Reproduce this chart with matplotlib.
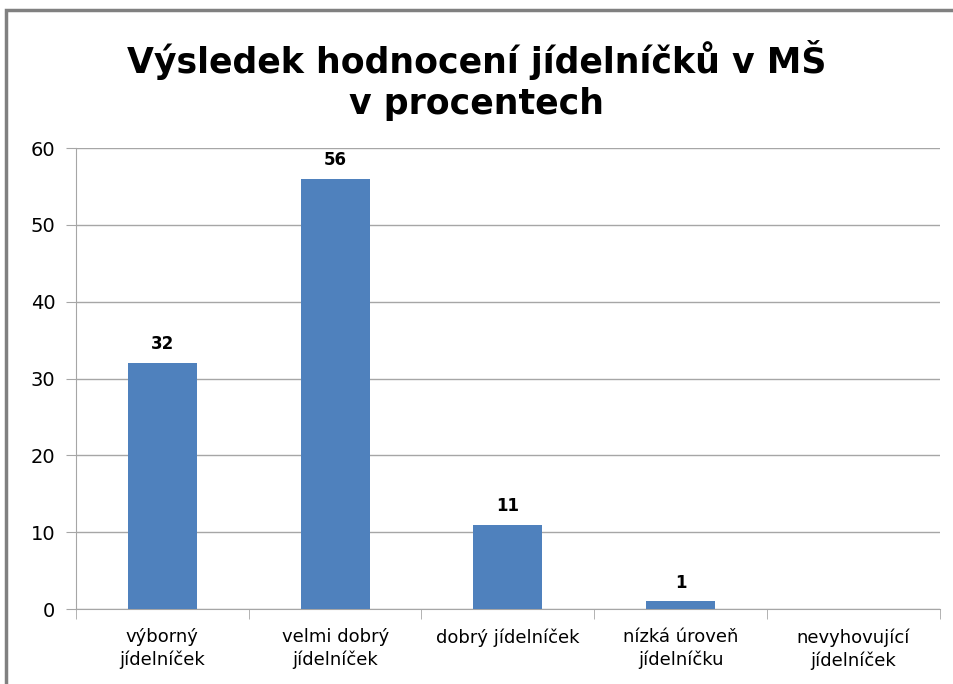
import matplotlib
matplotlib.use('Agg')
import matplotlib.pyplot as plt
from matplotlib.patches import Rectangle
import numpy as np

# data
categories = ['výborný\njídelníček', 'velmi dobrý\njídelníček', 'dobrý jídelníček',
              'nízká úroveň\njídelníčku', 'nevyhovující\njídelníček']
values = [32, 56, 11, 1, 0]
yticks = [0, 10, 20, 30, 40, 50, 60]

plt.rcParams['font.family'] = ['DejaVu Sans']
barColor = '#4F81BD'
gridColor = '#A6A6A6'

fig = plt.figure(figsize=(9.54, 6.84), dpi=100)
ax = fig.add_axes([0.0797, 0.1096, 0.9053, 0.674])

x = np.arange(len(categories))
bars = ax.bar(x, values, width=0.4, color=barColor, zorder=3)
for xi, v in zip(x, values):
    if v > 0:
        ax.annotate(str(v), (xi, v), xytext=(0, 7), textcoords='offset points',
                    ha='center', va='bottom', fontsize=12, fontweight='bold')

ax.set_xlim(-0.5, len(categories) - 0.5)
ax.set_ylim(0, 60)
ax.set_yticks(yticks)
ax.yaxis.grid(True, color=gridColor, linewidth=1, zorder=0)
ax.set_xticks(x)
ax.set_xticklabels(categories, fontsize=13, linespacing=1.3)
ax.tick_params(axis='x', length=0, pad=14)
ax.set_xticks(np.arange(len(categories) + 1) - 0.5, minor=True)
ax.tick_params(axis='x', which='minor', length=7, color=gridColor)
ax.tick_params(axis='y', length=7, color=gridColor, labelsize=14, pad=8)

for side in ['top', 'right']:
    ax.spines[side].set_visible(False)
ax.spines['left'].set_color(gridColor)
ax.spines['bottom'].set_color(gridColor)

fig.text(0.5, 0.882, 'Výsledek hodnocení jídelníčků v MŠ\nv procentech', ha='center', va='center',
         fontsize=25, fontweight='bold', linespacing=1.25)

# outer frame of the chart
fig.patches.append(Rectangle((0.006, -0.05), 1.1, 1.035, transform=fig.transFigure,
                             fill=False, edgecolor='#808080', linewidth=2.5))

fig.savefig('out.png', dpi=100)
